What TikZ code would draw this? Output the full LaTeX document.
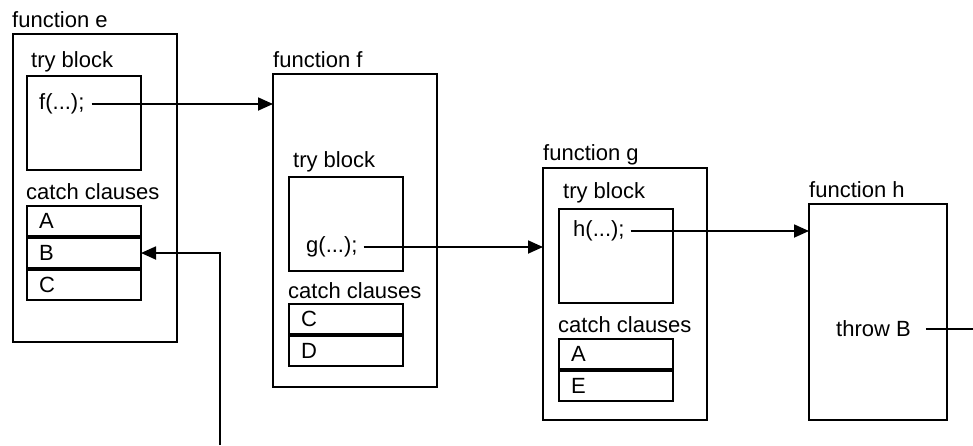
\documentclass[tikz,border=0pt]{standalone}
\usepackage{fontspec}
\setmainfont{Liberation Sans}
\usetikzlibrary{arrows.meta}

\begin{document}
\begin{tikzpicture}[
    x=1pt, y=-1pt,
    font=\fontsize{22}{26}\selectfont,
    box/.style={rectangle, draw, line width=1.8pt, anchor=north west, inner sep=0pt, outer sep=0pt},
    func/.style={box, minimum width=164pt},
    tryblk/.style={box, minimum width=114pt, minimum height=94pt},
    clause/.style={box, minimum width=114pt, minimum height=30pt, text width=90pt, inner xsep=12pt, align=left},
    lbl/.style={anchor=base west, inner sep=0pt},
    call/.style={anchor=west, inner sep=0pt},
    link/.style={line width=1.8pt, -{Triangle[length=15pt, width=13pt]}}
]

\useasboundingbox (0,0) rectangle (973,445);

% function e
\node[lbl] (fe-lbl) at (12,27) {function e};
\node[func, minimum height=308pt] (fe) at (13,34) {};
\node[lbl] (fe-trylbl) at (31,67) {try block};
\node[tryblk] (fe-try) at (27,76) {};
\node[call] (fe-call) at (39,104) {f(...);};
\node[lbl] (fe-catch) at (26,199) {catch clauses};
\foreach \c [count=\i from 0] in {A,B,C}
    \node[clause] (fe-\c) at (27,{206+32*\i}) {\c};

% function f
\node[lbl] (ff-lbl) at (273,67) {function f};
\node[func, minimum height=313pt] (ff) at (273,74) {};
\node[lbl] (ff-trylbl) at (293,167) {try block};
\node[tryblk] (ff-try) at (289,177) {};
\node[call] (ff-call) at (306,247) {g(...);};
\node[lbl] (ff-catch) at (288,298) {catch clauses};
\foreach \c [count=\i from 0] in {C,D}
    \node[clause] (ff-\c) at (289,{304+32*\i}) {\c};

% function g
\node[lbl] (fg-lbl) at (543,160) {function g};
\node[func, minimum height=252pt] (fg) at (543,168) {};
\node[lbl] (fg-trylbl) at (563,198) {try block};
\node[tryblk] (fg-try) at (559,209) {};
\node[call] (fg-call) at (573,231) {h(...);};
\node[lbl] (fg-catch) at (558,332) {catch clauses};
\foreach \c [count=\i from 0] in {A,E}
    \node[clause] (fg-\c) at (559,{339+32*\i}) {\c};

% function h
\node[lbl] (fh-lbl) at (809,197) {function h};
\node[func, minimum width=138pt, minimum height=216pt] (fh) at (809,204) {};
\node[call] (fh-throw) at (836,329) {throw B};

\coordinate (exit) at (973,329);
\coordinate (ret) at (220,445);

% Connections
\draw[link, shorten <=7pt] (fe-call.east) -- (fe-call.east -| ff.west);
\draw[link, shorten <=6pt] (ff-call.east) -- (ff-call.east -| fg.west);
\draw[link, shorten <=6pt] (fg-call.east) -- (fg-call.east -| fh.west);
\draw[line width=1.8pt, shorten <=15pt] (fh-throw.east) -- (exit);
\draw[link] (ret) |- (fe-B.east);

\end{tikzpicture}
\end{document}
